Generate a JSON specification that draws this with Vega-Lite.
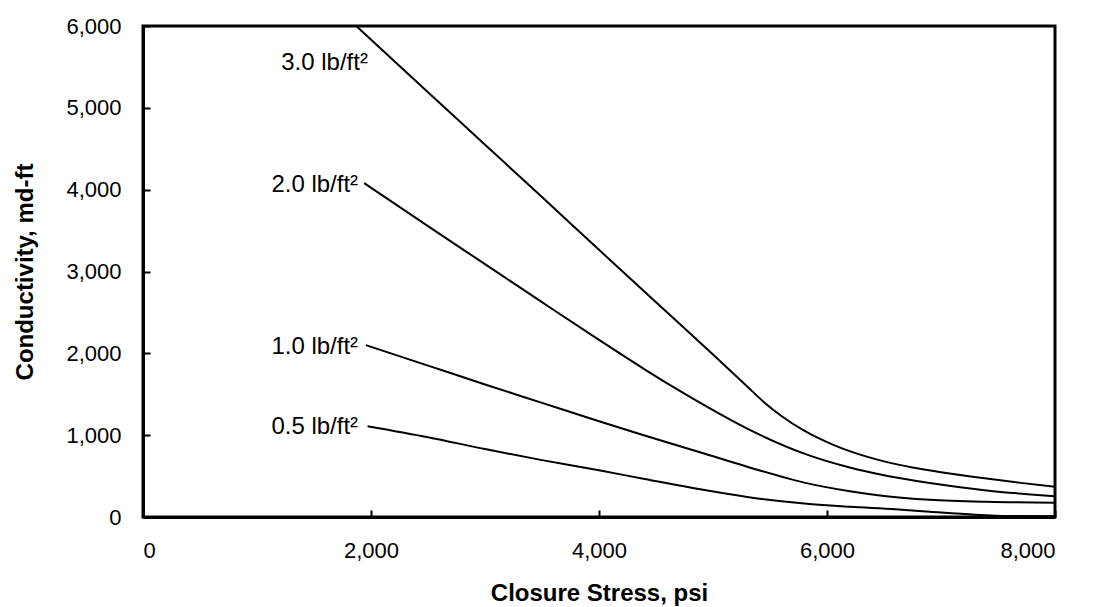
{
  "$schema": "https://vega.github.io/schema/vega-lite/v6.json",
  "autosize": {"type": "none"},
  "padding": {"left": 143, "top": 26, "right": 44, "bottom": 90},
  "width": 912,
  "height": 491,
  "background": "white",
  "config": {
    "font": "Liberation Sans",
    "view": {"stroke": "black", "strokeWidth": 3},
    "axis": {
      "grid": false,
      "domainColor": "black",
      "domainWidth": 3,
      "tickColor": "black",
      "tickWidth": 2,
      "tickSize": -7,
      "labelColor": "black",
      "labelFont": "Liberation Sans",
      "labelFontSize": 22,
      "titleFont": "Liberation Sans",
      "titleFontSize": 24,
      "titleFontWeight": "bold",
      "titleColor": "black"
    }
  },
  "datasets": {
    "curves": [
      {"stress": 1870, "cond": 6000, "load": "3.0"},
      {"stress": 2500, "cond": 5190, "load": "3.0"},
      {"stress": 3000, "cond": 4550, "load": "3.0"},
      {"stress": 3500, "cond": 3910, "load": "3.0"},
      {"stress": 4000, "cond": 3265, "load": "3.0"},
      {"stress": 4500, "cond": 2625, "load": "3.0"},
      {"stress": 5000, "cond": 1985, "load": "3.0"},
      {"stress": 5300, "cond": 1595, "load": "3.0"},
      {"stress": 5450, "cond": 1400, "load": "3.0"},
      {"stress": 5600, "cond": 1235, "load": "3.0"},
      {"stress": 5800, "cond": 1055, "load": "3.0"},
      {"stress": 6050, "cond": 885, "load": "3.0"},
      {"stress": 6250, "cond": 780, "load": "3.0"},
      {"stress": 6500, "cond": 680, "load": "3.0"},
      {"stress": 6750, "cond": 605, "load": "3.0"},
      {"stress": 7000, "cond": 548, "load": "3.0"},
      {"stress": 7400, "cond": 470, "load": "3.0"},
      {"stress": 7700, "cond": 417, "load": "3.0"},
      {"stress": 8000, "cond": 370, "load": "3.0"},

      {"stress": 1940, "cond": 4080, "load": "2.0"},
      {"stress": 2500, "cond": 3555, "load": "2.0"},
      {"stress": 3000, "cond": 3090, "load": "2.0"},
      {"stress": 3500, "cond": 2625, "load": "2.0"},
      {"stress": 4000, "cond": 2165, "load": "2.0"},
      {"stress": 4400, "cond": 1805, "load": "2.0"},
      {"stress": 4650, "cond": 1590, "load": "2.0"},
      {"stress": 4900, "cond": 1385, "load": "2.0"},
      {"stress": 5300, "cond": 1080, "load": "2.0"},
      {"stress": 5800, "cond": 775, "load": "2.0"},
      {"stress": 6200, "cond": 605, "load": "2.0"},
      {"stress": 6500, "cond": 510, "load": "2.0"},
      {"stress": 6900, "cond": 415, "load": "2.0"},
      {"stress": 7400, "cond": 325, "load": "2.0"},
      {"stress": 8000, "cond": 255, "load": "2.0"},

      {"stress": 1955, "cond": 2100, "load": "1.0"},
      {"stress": 2500, "cond": 1850, "load": "1.0"},
      {"stress": 3000, "cond": 1620, "load": "1.0"},
      {"stress": 3500, "cond": 1395, "load": "1.0"},
      {"stress": 4000, "cond": 1170, "load": "1.0"},
      {"stress": 4400, "cond": 995, "load": "1.0"},
      {"stress": 4900, "cond": 785, "load": "1.0"},
      {"stress": 5300, "cond": 615, "load": "1.0"},
      {"stress": 5800, "cond": 420, "load": "1.0"},
      {"stress": 6200, "cond": 315, "load": "1.0"},
      {"stress": 6500, "cond": 258, "load": "1.0"},
      {"stress": 6900, "cond": 212, "load": "1.0"},
      {"stress": 7400, "cond": 186, "load": "1.0"},
      {"stress": 8000, "cond": 175, "load": "1.0"},

      {"stress": 1970, "cond": 1110, "load": "0.5"},
      {"stress": 2500, "cond": 975, "load": "0.5"},
      {"stress": 3000, "cond": 830, "load": "0.5"},
      {"stress": 3500, "cond": 695, "load": "0.5"},
      {"stress": 4000, "cond": 570, "load": "0.5"},
      {"stress": 4400, "cond": 465, "load": "0.5"},
      {"stress": 4900, "cond": 335, "load": "0.5"},
      {"stress": 5300, "cond": 245, "load": "0.5"},
      {"stress": 5800, "cond": 165, "load": "0.5"},
      {"stress": 6200, "cond": 125, "load": "0.5"},
      {"stress": 6600, "cond": 95, "load": "0.5"},
      {"stress": 6900, "cond": 65, "load": "0.5"},
      {"stress": 7300, "cond": 28, "load": "0.5"},
      {"stress": 7600, "cond": 12, "load": "0.5"},
      {"stress": 8000, "cond": 8, "load": "0.5"}
    ],
    "labels": [
      {"stress": 1973, "cond": 5548, "text": "3.0 lb/ft²"},
      {"stress": 1887, "cond": 4054, "text": "2.0 lb/ft²"},
      {"stress": 1887, "cond": 2073, "text": "1.0 lb/ft²"},
      {"stress": 1887, "cond": 1097, "text": "0.5 lb/ft²"}
    ]
  },
  "layer": [
    {
      "data": {"name": "curves"},
      "mark": {"type": "line", "color": "black", "strokeWidth": 2, "interpolate": "monotone"},
      "encoding": {
        "x": {
          "field": "stress", "type": "quantitative",
          "scale": {"domain": [0, 8000], "nice": false},
          "axis": {"title": "Closure Stress, psi", "values": [0, 2000, 4000, 6000, 8000], "format": ",d", "labelPadding": 30, "titlePadding": 20}
        },
        "y": {
          "field": "cond", "type": "quantitative",
          "scale": {"domain": [0, 6000], "nice": false},
          "axis": {"title": "Conductivity, md-ft", "values": [0, 1000, 2000, 3000, 4000, 5000, 6000], "format": ",d", "labelPadding": 29, "titlePadding": 28}
        },
        "detail": {"field": "load", "type": "nominal"}
      }
    },
    {
      "data": {"name": "labels"},
      "mark": {"type": "text", "align": "right", "baseline": "middle", "fontSize": 24, "color": "black", "font": "Liberation Sans"},
      "encoding": {
        "x": {"field": "stress", "type": "quantitative"},
        "y": {"field": "cond", "type": "quantitative"},
        "text": {"field": "text", "type": "nominal"}
      }
    }
  ]
}
